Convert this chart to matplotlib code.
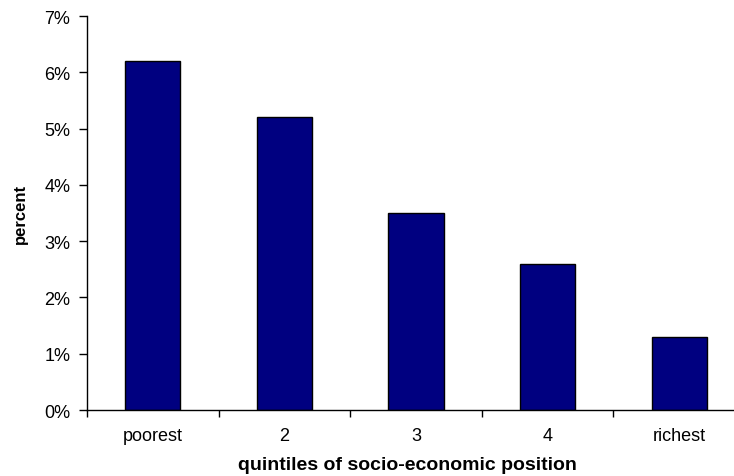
import matplotlib
matplotlib.use("Agg")
import matplotlib.pyplot as plt
from matplotlib.ticker import FuncFormatter

# data
quintiles = ["poorest", "2", "3", "4", "richest"]
pct = [6.2, 5.2, 3.5, 2.6, 1.3]

plt.rcParams['font.family'] = ['Liberation Sans', 'DejaVu Sans']

fig = plt.figure(figsize=(7.34, 4.77), dpi=100)
# axes runs past the right edge of the picture, like the original
ax = fig.add_axes([87 / 734, 1 - 411 / 477, 658 / 734, (411 - 17) / 477])

x = list(range(len(quintiles)))
ax.bar(x, pct, width=0.42, color="#000080", edgecolor="black", linewidth=1.0)

ax.set_xlim(-0.5, 4.5)
ax.set_ylim(0, 7)
ax.set_yticks(range(0, 8))
ax.yaxis.set_major_formatter(FuncFormatter(lambda v, p: "%d%%" % v))

ax.set_xticks(x)
ax.set_xticklabels(quintiles)
ax.set_xticks([-0.5, 0.5, 1.5, 2.5, 3.5], minor=True)
ax.tick_params(axis="x", which="major", length=0, pad=12, labelsize=13)
ax.tick_params(axis="x", which="minor", length=5, width=1, direction="out")
ax.tick_params(axis="y", length=6, width=1, direction="out", pad=6, labelsize=13)

for s in ["top", "right"]:
    ax.spines[s].set_visible(False)
ax.spines["left"].set_linewidth(1)
ax.spines["bottom"].set_linewidth(1)

fig.text(20 / 734, 1 - 214 / 477, "percent", rotation=90,
         ha="center", va="center", fontsize=12, fontweight="bold")
fig.text(407 / 734, 1 - 466 / 477, "quintiles of socio-economic position",
         ha="center", va="center", fontsize=14, fontweight="bold")

fig.savefig("out.png", dpi=100)
